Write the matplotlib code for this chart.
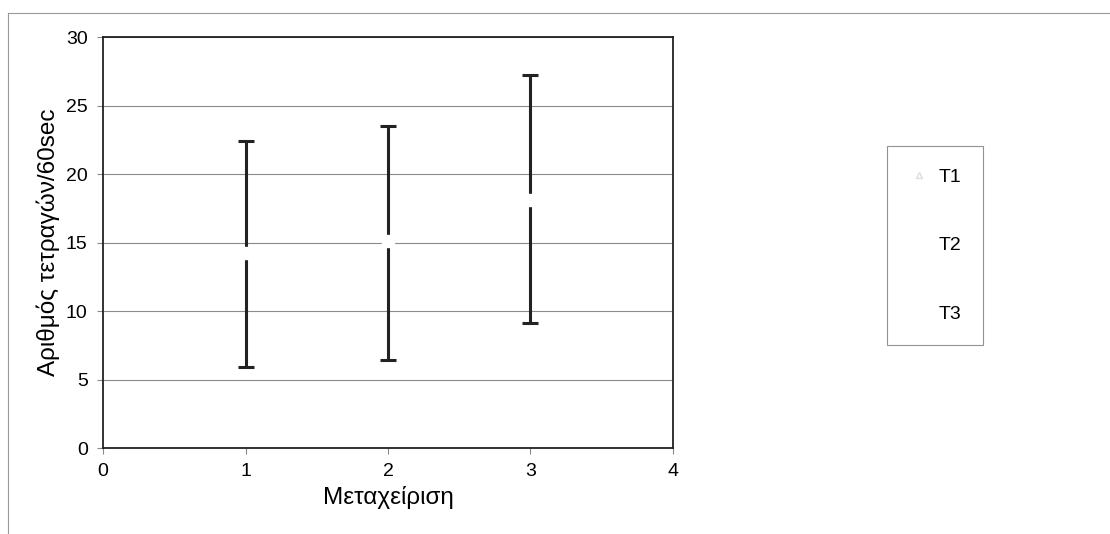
import numpy as np
import matplotlib
matplotlib.use("Agg")
import matplotlib.pyplot as plt
from matplotlib.lines import Line2D

plt.rcParams['font.family'] = ['Liberation Sans', 'DejaVu Sans']

# DATA
treatments = [1, 2, 3]
labels = ['T1', 'T2', 'T3']
means = [14.2, 15.1, 18.1]
upper = [22.4, 23.5, 27.2]
lower = [5.9, 6.4, 9.1]

x_ticks = [0, 1, 2, 3, 4]
y_ticks = [0, 5, 10, 15, 20, 25, 30]

err_low = [m - lo for m, lo in zip(means, lower)]
err_high = [hi - m for m, hi in zip(means, upper)]

fig = plt.figure(figsize=(11.1, 5.34), dpi=100)
ax = fig.add_axes([0.0928, 0.161, 0.5135, 0.7697])

ax.set_xlim(0, 4)
ax.set_ylim(0, 30)
ax.set_xticks(x_ticks)
ax.set_yticks(y_ticks)
ax.grid(True, axis='y', color='#8a8a8a', linewidth=0.8)
ax.set_axisbelow(True)

for i in range(len(treatments)):
    ax.errorbar(treatments[i], means[i], yerr=[[err_low[i]], [err_high[i]]],
                fmt='s', markersize=8, markerfacecolor='white', markeredgecolor='white',
                ecolor='#222222', elinewidth=2.2, capsize=5.5, capthick=2.2, zorder=3)

for s in ax.spines.values():
    s.set_color('#222222')
    s.set_linewidth(1.3)

ax.tick_params(axis='both', labelsize=14, color='#888888', length=4, width=0.8, pad=7)
ax.set_xlabel('Μεταχείριση', fontsize=17.5, labelpad=4)
ax.set_ylabel('Αριθμός τετραγών/60sec', fontsize=17.5, labelpad=4)

# legend with faint markers
handles = [Line2D([], [], linestyle='none', marker='^', markersize=4,
                  markerfacecolor='white', markeredgecolor='#dddddd'),
           Line2D([], [], linestyle='none', marker='s', markersize=4,
                  markerfacecolor='white', markeredgecolor='white'),
           Line2D([], [], linestyle='none', marker='s', markersize=4,
                  markerfacecolor='white', markeredgecolor='white')]
leg = fig.legend(handles, labels, loc='center', bbox_to_anchor=(0.8, 0.348, 0.0847, 0.384),
                 fontsize=14, labelspacing=2.6, handlelength=1.0, handletextpad=0.5,
                 fancybox=False, frameon=True, borderpad=1.15)
leg.get_frame().set_edgecolor('#777777')
leg.get_frame().set_linewidth(0.8)

# outer chart border (top and left edges visible)
fig.add_artist(Line2D([0.007, 1.0], [1 - 13 / 534, 1 - 13 / 534], color='#999999', linewidth=0.8))
fig.add_artist(Line2D([0.007, 0.007], [0.0, 1 - 13 / 534], color='#999999', linewidth=0.8))

plt.savefig("out.png", dpi=100)
